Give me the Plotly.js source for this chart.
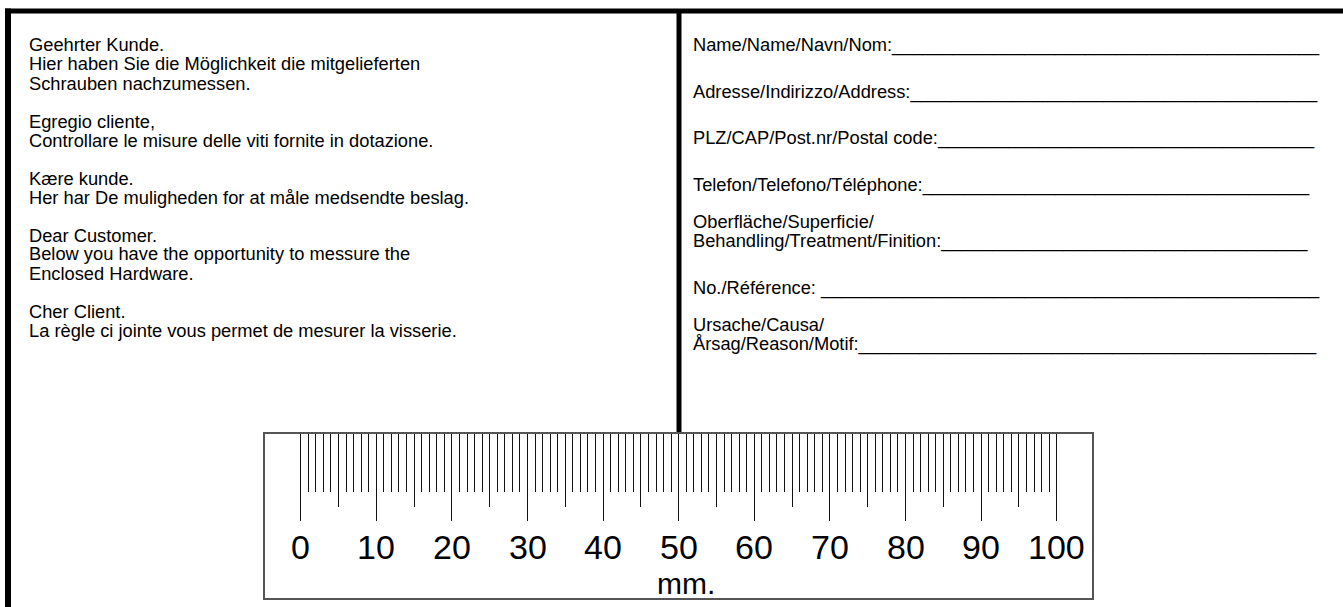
<!DOCTYPE html>
<html>
<head>
<meta charset="utf-8">
<script src="https://cdn.plot.ly/plotly-3.0.1.min.js"></script>
<style>html,body{margin:0;padding:0;background:#fff;}#chart{width:1343px;height:607px;}</style>
</head>
<body>
<div id="chart"></div>
<script>
// ---- data ----
const rulerMin = 0;
const rulerMax = 100;
const majorStep = 10;          // long ticks every 10 mm
const minorStep = 1;           // short ticks every mm
const halfTicks = [5, 15, 25, 35, 45, 55, 65, 75, 85, 95];
const tickLabels = [0, 10, 20, 30, 40, 50, 60, 70, 80, 90, 100];
const unitLabel = "mm.";

const leftLines = [
  "Geehrter Kunde.",
  "Hier haben Sie die Möglichkeit die mitgelieferten",
  "Schrauben nachzumessen.",
  "",
  "Egregio cliente,",
  "Controllare le misure delle viti fornite in dotazione.",
  "",
  "Kære kunde.",
  "Her har De muligheden for at måle medsendte beslag.",
  "",
  "Dear Customer.",
  "Below you have the opportunity to messure the",
  "Enclosed Hardware.",
  "",
  "Cher Client.",
  "La règle ci jointe vous permet de mesurer la visserie."
];

const rightFields = [
  ["Name/Name/Navn/Nom:", 42],
  ["Adresse/Indirizzo/Address:", 40],
  ["PLZ/CAP/Post.nr/Postal code:", 37],
  ["Telefon/Telefono/Téléphone:", 38],
  ["Oberfläche/Superficie/<br>Behandling/Treatment/Finition:", 36],
  ["No./Référence: ", 49],
  ["Ursache/Causa/<br>Årsag/Reason/Motif:", 45]
];

// ---- layout helpers (pixel -> paper) ----
const W = 1343, H = 607;
const px = x => x / W;
const py = y => 1 - y / H;
const textFont = {family: "'Liberation Sans', Arial, sans-serif", size: 18.3, color: '#000'};
const numFont = {family: "'Liberation Sans', Arial, sans-serif", size: 34, color: '#000'};

const annotations = [];
// left column
leftLines.forEach((t, i) => {
  if (!t) return;
  annotations.push({
    xref: 'paper', yref: 'paper', x: px(27), y: py(45 + i * 19),
    xanchor: 'left', yanchor: 'middle', showarrow: false,
    text: t, font: textFont
  });
});
// right column
const blockTop = [45, 92, 138, 185, 222, 288, 325];
rightFields.forEach((f, i) => {
  const parts = f[0].split('<br>');
  const last = parts[parts.length - 1] + '_'.repeat(f[1]);
  parts.forEach((p, j) => {
    const txt = (j === parts.length - 1) ? last : p;
    annotations.push({
      xref: 'paper', yref: 'paper', x: px(691), y: py(blockTop[i] + j * 19),
      xanchor: 'left', yanchor: 'middle', showarrow: false,
      text: txt, font: textFont
    });
  });
});
// ruler numbers
tickLabels.forEach(v => {
  annotations.push({
    xref: 'x', yref: 'paper', x: v, y: py(547),
    xanchor: 'center', yanchor: 'middle', showarrow: false,
    text: String(v), font: numFont
  });
});
annotations.push({
  xref: 'paper', yref: 'paper', x: px(686), y: py(583),
  xanchor: 'center', yanchor: 'middle', showarrow: false,
  text: unitLabel, font: {family: numFont.family, size: 30, color: '#000'}
});

const shapes = [
  // outer frame
  {type: 'line', xref: 'paper', yref: 'paper', x0: px(5), x1: px(W), y0: py(11), y1: py(11), line: {color: '#000', width: 5}},
  {type: 'line', xref: 'paper', yref: 'paper', x0: px(8), x1: px(8), y0: py(8.5), y1: py(H), line: {color: '#000', width: 6}},
  // divider
  {type: 'line', xref: 'paper', yref: 'paper', x0: px(679), x1: px(679), y0: py(11), y1: py(433), line: {color: '#000', width: 5}},
  // ruler box
  {type: 'rect', xref: 'paper', yref: 'paper', x0: px(264), x1: px(1093), y0: py(433), y1: py(599), line: {color: '#555', width: 2}, fillcolor: 'rgba(0,0,0,0)'}
];

// pixel placement of the mm scale: 0 mm at 300.7 px, 100 mm at 1056.7 px
const mmPx = (1056.7 - 300.7) / (rulerMax - rulerMin);
const pad = 1; // mm of padding so end ticks are not clipped
const xRange = [rulerMin - pad, rulerMax + pad];
const xDomain = [px(300.7 - pad * mmPx), px(1056.7 + pad * mmPx)];

const trace = {x: [rulerMin, rulerMax], y: [0, 0], type: 'scatter', mode: 'markers', marker: {opacity: 0}, hoverinfo: 'skip', showlegend: false};
const trace2 = {x: [rulerMin, rulerMax], y: [0, 0], xaxis: 'x2', type: 'scatter', mode: 'markers', marker: {opacity: 0}, hoverinfo: 'skip', showlegend: false};

const layout = {
  width: W, height: H,
  margin: {l: 0, r: 0, t: 0, b: 0, pad: 0},
  paper_bgcolor: '#fff', plot_bgcolor: 'rgba(0,0,0,0)',
  showlegend: false,
  xaxis: {
    domain: xDomain, range: xRange, side: 'top', anchor: 'y',
    showgrid: false, zeroline: false, showline: false, showticklabels: false,
    tickmode: 'array', tickvals: tickLabels,
    ticks: 'inside', ticklen: 88, tickwidth: 1, tickcolor: '#111',
    minor: {tickmode: 'linear', tick0: rulerMin, dtick: minorStep, ticks: 'inside', ticklen: 59, tickwidth: 1, tickcolor: '#111', showgrid: false},
    fixedrange: true
  },
  xaxis2: {
    overlaying: 'x', range: xRange, side: 'top', anchor: 'y',
    showgrid: false, zeroline: false, showline: false, showticklabels: false,
    tickmode: 'array', tickvals: halfTicks,
    ticks: 'inside', ticklen: 74, tickwidth: 1, tickcolor: '#111',
    fixedrange: true
  },
  yaxis: {
    domain: [py(599), py(433)], range: [0, 1], visible: false, fixedrange: true
  },
  annotations: annotations,
  shapes: shapes
};

Plotly.newPlot('chart', [trace, trace2], layout, {staticPlot: true, displayModeBar: false});
</script>
</body>
</html>
